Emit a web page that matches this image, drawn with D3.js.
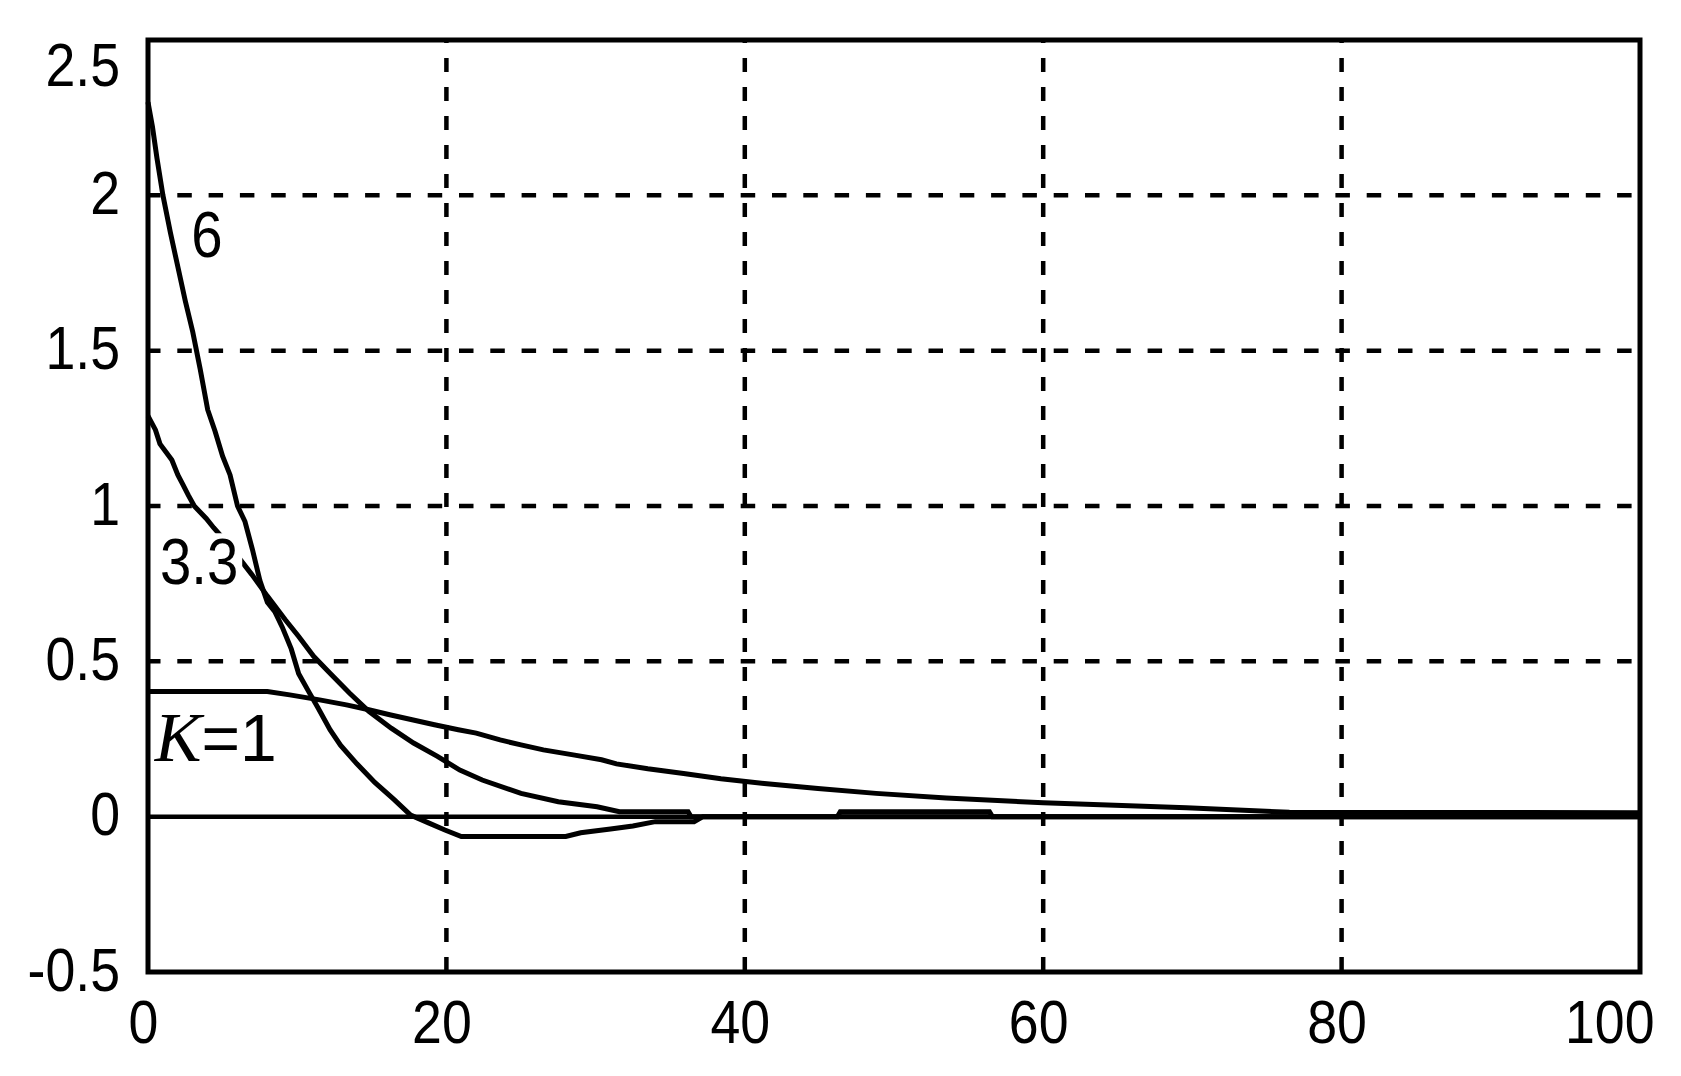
<!DOCTYPE html>
<html>
<head>
<meta charset="utf-8">
<script src="https://cdn.jsdelivr.net/npm/d3@7/dist/d3.min.js"></script>
<style>
  html, body { margin: 0; padding: 0; background: #fff; }
  svg { display: block; }
</style>
</head>
<body>
<svg id="chart" width="1681" height="1076"></svg>
<script>
// ---- data ----
const xTicks = [0, 20, 40, 60, 80, 100];
const yTicks = [-0.5, 0, 0.5, 1, 1.5, 2, 2.5];
const xGrid = [20, 40, 60, 80];
const yGrid = [0.5, 1, 1.5, 2];

const k6T = [0, 0.3, 0.6, 1.0, 1.5, 2.0, 2.5, 3.0, 3.5, 4.0, 4.5, 5.0, 5.5, 6.0, 6.5, 7.0, 7.5, 8.0, 8.5, 9.0, 9.6, 10.1, 10.8, 11.4, 12.2, 12.9, 14.0, 15.2, 16.5, 17.6, 18.8, 19.9, 21.0, 28.0, 29.0, 31.0, 32.5, 34.0, 36.6, 37.2, 100];
const k6V = [2.30, 2.22, 2.12, 2.00, 1.88, 1.77, 1.66, 1.56, 1.44, 1.31, 1.24, 1.16, 1.10, 1.00, 0.95, 0.86, 0.76, 0.69, 0.66, 0.61, 0.54, 0.46, 0.40, 0.35, 0.28, 0.23, 0.17, 0.11, 0.055, 0.005, -0.02, -0.043, -0.064, -0.064, -0.052, -0.04, -0.03, -0.016, -0.016, 0, 0];

const k33T = [0, 0.5, 0.8, 1.6, 2.0, 2.35, 2.7, 3.1, 3.9, 4.4, 5.5, 6.95, 8.0, 9.2, 10.1, 11.1, 12.2, 13.5, 14.8, 16.3, 17.8, 19.4, 20.9, 22.4, 25.0, 27.5, 30.1, 31.6, 36.2, 36.4, 46.2, 46.4, 56.4, 56.6, 100];
const k33V = [1.29, 1.245, 1.20, 1.148, 1.10, 1.068, 1.035, 1.0, 0.96, 0.93, 0.87, 0.78, 0.71, 0.634, 0.58, 0.516, 0.462, 0.398, 0.339, 0.285, 0.237, 0.194, 0.15, 0.118, 0.075, 0.048, 0.032, 0.016, 0.016, 0, 0, 0.016, 0.016, 0, 0];

const k1T = [0, 8.0, 9.5, 11.5, 13.3, 14.8, 16.2, 17.7, 19.2, 20.8, 22.0, 23.6, 25.0, 26.5, 28.5, 30.4, 31.4, 33.5, 35.9, 38.4, 41.3, 44.9, 48.8, 53.5, 60.0, 69.6, 76.5, 100];
const k1V = [0.403, 0.403, 0.392, 0.376, 0.36, 0.344, 0.328, 0.312, 0.296, 0.28, 0.269, 0.247, 0.231, 0.215, 0.199, 0.183, 0.17, 0.154, 0.139, 0.122, 0.107, 0.091, 0.075, 0.06, 0.045, 0.029, 0.014, 0.013];

const annotations = [
  { parts: [{ t: "6" }], tx: 2.9, ty: 1.80, sx: 0.88, size: 64 },
  { parts: [{ t: "3.3" }], tx: 0.8, ty: 0.75, sx: 0.88, size: 64 },
  { parts: [{ t: "K", italic: true }, { t: "=1" }], tx: 0.45, ty: 0.18, sx: 1.0, size: 66 }
];

// ---- layout ----
const L = 148, R = 1640, T = 40, B = 972;
const svg = d3.select("#chart");
const x = d3.scaleLinear().domain([0, 100]).range([L, R]);
const y = d3.scaleLinear().domain([-0.5, 2.5]).range([B, T]);

const SANS = "'Liberation Sans', Arial, sans-serif";
const SERIF = "'Liberation Serif', 'Times New Roman', serif";
const SX = 0.88;

// grid
const g = svg.append("g");
g.selectAll("line.vg").data(xGrid).enter().append("line")
  .attr("x1", d => x(d)).attr("x2", d => x(d))
  .attr("y1", T).attr("y2", B)
  .attr("stroke", "#000").attr("stroke-width", 4.5)
  .attr("stroke-dasharray", "14,15").attr("stroke-dashoffset", 11);
g.selectAll("line.hg").data(yGrid).enter().append("line")
  .attr("x1", L).attr("x2", R)
  .attr("y1", d => y(d)).attr("y2", d => y(d))
  .attr("stroke", "#000").attr("stroke-width", 4.5)
  .attr("stroke-dasharray", "14.5,16.8").attr("stroke-dashoffset", 2);

// zero line
g.append("line").attr("x1", L).attr("x2", R).attr("y1", y(0)).attr("y2", y(0))
  .attr("stroke", "#000").attr("stroke-width", 4.5);

// curves
const line = d3.line().x(d => x(d[0])).y(d => y(d[1]));
const series = [[k1T, k1V], [k33T, k33V], [k6T, k6V]];
series.forEach(([ts, vs]) => {
  svg.append("path")
    .datum(ts.map((t, i) => [t, vs[i]]))
    .attr("d", line)
    .attr("fill", "none")
    .attr("stroke", "#000")
    .attr("stroke-width", 5)
    .attr("stroke-linejoin", "miter");
});

// annotations with white background
annotations.forEach(a => {
  const grp = svg.append("g");
  const txt = grp.append("text")
    .attr("transform", `translate(${x(a.tx)},${y(a.ty)}) scale(${a.sx},1)`)
    .attr("font-size", a.size).attr("font-family", SANS).attr("fill", "#000");
  a.parts.forEach(p => {
    const ts = txt.append("tspan").text(p.t);
    if (p.italic) ts.attr("font-family", SERIF).attr("font-style", "italic").attr("font-size", a.size + 4);
  });
  const bb = txt.node().getBBox();
  grp.insert("rect", "text")
    .attr("x", x(a.tx) + bb.x * a.sx - 4)
    .attr("y", y(a.ty) + bb.y + 8)
    .attr("width", bb.width * a.sx + 8)
    .attr("height", bb.height - 12)
    .attr("fill", "#fff");
});

// border
svg.append("rect").attr("x", L).attr("y", T).attr("width", R - L).attr("height", B - T)
  .attr("fill", "none").attr("stroke", "#000").attr("stroke-width", 5);

// x axis labels
const xAxis = d3.axisBottom(x).tickValues(xTicks).tickSize(0).tickPadding(0).tickFormat(d3.format("d"));
const xa = svg.append("g").attr("transform", `translate(0,${B})`).call(xAxis);
xa.select(".domain").remove();
xa.selectAll("text")
  .attr("font-size", 61).attr("font-family", SANS).attr("fill", "#000")
  .attr("dy", null).attr("y", 71)
  .attr("text-anchor", "middle")
  .each(function(d) {
    const el = d3.select(this);
    const w = this.getBBox().width * SX;
    let cx = -5;
    const right = x(d) + cx + w / 2;
    if (right > 1654) cx -= (right - 1654);
    el.attr("transform", `translate(${cx},0) scale(${SX},1)`);
  });

// y axis labels
const yAxis = d3.axisLeft(y).tickValues(yTicks).tickSize(0).tickPadding(0).tickFormat(d => String(d));
const ya = svg.append("g").attr("transform", `translate(${L},0)`).call(yAxis);
ya.select(".domain").remove();
ya.selectAll("text")
  .attr("font-size", 61).attr("font-family", SANS).attr("fill", "#000")
  .attr("dy", null).attr("x", 0)
  .attr("text-anchor", "end")
  .attr("y", d => Math.max(18, (T + 45) - y(d)))
  .attr("transform", `translate(-28,0) scale(${SX},1)`);
</script>
</body>
</html>
